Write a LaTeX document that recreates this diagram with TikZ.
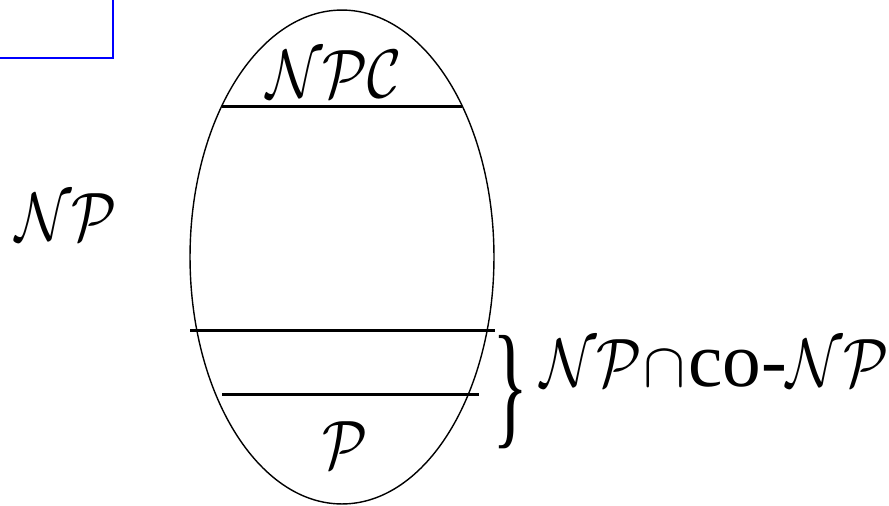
\RequirePackage{fix-cm}
\documentclass[tikz,border=0pt]{standalone}
\usepackage{amsmath,amssymb}
\usepackage{fontspec}
\setmainfont{Liberation Serif}
\newfontfamily\timesfont{Liberation Serif}
\usetikzlibrary{shapes.geometric, positioning}

% narrower calligraphic letters
\newcommand{\ncal}[1]{\scalebox{0.85}[1]{$\mathcal{#1}$}}

\begin{document}
\begin{tikzpicture}[
    x=0.02cm, y=-0.02cm,
    classset/.style={
        ellipse,
        draw,
        line width=0.8pt,
        minimum width=6.08cm,
        minimum height=9.88cm,
        inner sep=0pt
    },
    divider/.style={
        line width=1.7pt
    },
    lbl/.style={
        font=\rmfamily\fontsize{39}{46}\selectfont,
        inner sep=0pt
    },
    frame/.style={
        draw=blue,
        line width=1.3pt
    }
]
    \useasboundingbox (0,0) rectangle (889,505);
    \clip (0,0) rectangle (889,505);

    \draw[frame] (-20,-20) rectangle (113,58);

    \node[classset] (np) at (342,257) {};

    \draw[divider] (222,106) -- (462,106);
    \draw[divider] (190,330) -- (495,330);
    \draw[divider] (222,394) -- (479,394);

    \node[lbl, anchor=base] (npc) at (334,97) {\ncal{NPC}};
    \node[lbl] (p) at (345,445) {\ncal{P}};
    \node[lbl, anchor=base] (nplabel) at (66,240) {\ncal{NP}};
    \node[lbl] (brace) at (511,392)
        {\scalebox{0.55}[1]{\timesfont\fontsize{78}{86}\selectfont\}}};
    \node[lbl, anchor=base west] (inter) at (540,386)
        {\ncal{NP}\hspace{0.03cm}{\fontsize{36}{42}\selectfont$\cap$}\hspace{0.05cm}{\timesfont\fontsize{44}{50}\selectfont co-}\ncal{NP}};
\end{tikzpicture}
\end{document}
